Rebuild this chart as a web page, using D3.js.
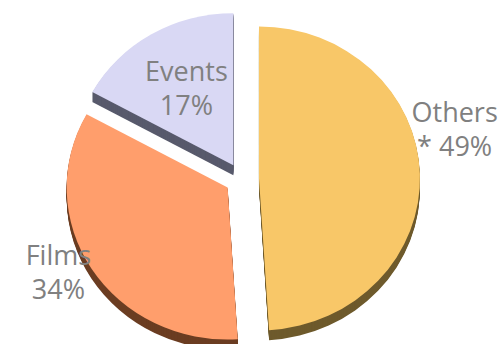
<!DOCTYPE html>
<html>
<head>
<meta charset="utf-8">
<script src="https://cdn.jsdelivr.net/npm/d3@7"></script>
<style>
  body { margin: 0; background: #fff; }
</style>
</head>
<body>
<div id="chart"></div>
<script>
// data
const categories = ["Others", "Films", "Events"];
const values = [49, 34, 17];
const percentLabels = ["* 49%", "34%", "17%"];

// layout
const width = 502, height = 344;
const cx = 242, cy = 179;
const rx = 161, ry = 152;
const squash = ry / rx;
const explode = 17;
const depth = 10;
const lineGap = 34;
const labelRadius = [221, 205, 118];
const labelTurn = [-14, 6, 2.5]; // degrees, nudge from slice mid angle

const topColor = d3.scaleOrdinal().domain(categories).range(["#f8c768", "#ff9e6c", "#d9d8f4"]);
const sideColor = d3.scaleOrdinal().domain(categories).range(["#6e5a2c", "#6b3d22", "#585a6c"]);

const svg = d3.select("#chart")
  .append("svg")
  .attr("width", width)
  .attr("height", height);

const pie = d3.pie()
  .sort(null)
  .value(function (d) { return d.value; });

const slices = pie(categories.map(function (c, i) {
  return { key: c, value: values[i], label: percentLabels[i], i: i };
}));

const arc = d3.arc().innerRadius(0).outerRadius(rx);

function offset(d) {
  const m = (d.startAngle + d.endAngle) / 2;
  return [Math.sin(m) * explode, -Math.cos(m) * explode];
}

// side walls: stack the slice shape downwards
for (let k = depth; k >= 1; k--) {
  svg.append("g")
    .attr("transform", "translate(" + cx + "," + (cy + k) + ") scale(1," + squash + ")")
    .selectAll("path")
    .data(slices)
    .enter()
    .append("path")
    .attr("transform", function (d) { return "translate(" + offset(d) + ")"; })
    .attr("d", arc)
    .attr("fill", function (d) { return sideColor(d.data.key); });
}

// top faces
svg.append("g")
  .attr("transform", "translate(" + cx + "," + cy + ") scale(1," + squash + ")")
  .selectAll("path")
  .data(slices)
  .enter()
  .append("path")
  .attr("transform", function (d) { return "translate(" + offset(d) + ")"; })
  .attr("d", arc)
  .attr("fill", function (d) { return topColor(d.data.key); });

// labels
const text = svg.selectAll("text.lbl")
  .data(slices)
  .enter()
  .append("text")
  .attr("class", "lbl")
  .attr("text-anchor", "middle")
  .style("font-family", "'Open Sans', sans-serif")
  .style("font-size", "27px")
  .attr("fill", "#808080")
  .attr("transform", function (d) {
    const a = (d.startAngle + d.endAngle) / 2 + labelTurn[d.data.i] * Math.PI / 180;
    const r = labelRadius[d.data.i];
    return "translate(" + (cx + r * Math.sin(a)) + "," + (cy - r * Math.cos(a) * squash) + ")";
  });

text.append("tspan")
  .attr("x", 0)
  .attr("y", 0)
  .text(function (d) { return d.data.key; });

text.append("tspan")
  .attr("x", 0)
  .attr("y", lineGap)
  .text(function (d) { return d.data.label; });
</script>
</body>
</html>
